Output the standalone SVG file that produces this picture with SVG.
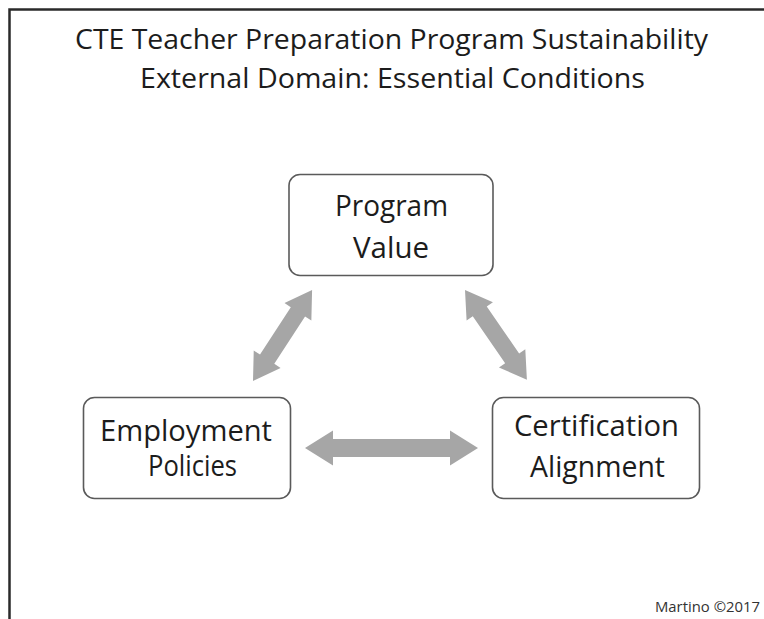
<svg xmlns="http://www.w3.org/2000/svg" width="764" height="619" viewBox="0 0 764 619">
  <style>
    .title { font-family: "Open Sans", "Liberation Sans", sans-serif; font-size: 27.5px; fill: #1c1c1c; text-anchor: middle; }
    .label { font-family: "Open Sans", "Liberation Sans", sans-serif; font-size: 29.5px; fill: #1c1c1c; text-anchor: middle; }
    .credit { font-family: "Open Sans", "Liberation Sans", sans-serif; font-size: 14.5px; fill: #333; text-anchor: end; }
    .box { fill: #ffffff; stroke: #5a5a5a; stroke-width: 1.6; }
    .arrow { fill: #a6a6a6; }
  </style>
  <rect x="0" y="0" width="764" height="619" fill="#ffffff"/>
  <!-- slide frame -->
  <path d="M9.5,619 V9.5 H764" fill="none" stroke="#2a2a2a" stroke-width="2.5"/>

  <g id="title">
    <text class="title" x="391.5" y="48.5" textLength="633" lengthAdjust="spacingAndGlyphs">CTE Teacher Preparation Program Sustainability</text>
    <text class="title" x="392.5" y="88" textLength="505" lengthAdjust="spacingAndGlyphs">External Domain: Essential Conditions</text>
  </g>

  <g id="connectors">
    <!-- Employment Policies <-> Certification Alignment -->
    <path class="arrow" transform="translate(305,448)" d="M0,0 L28,-17.5 L28,-9 L145,-9 L145,-17.5 L173,0 L145,17.5 L145,9 L28,9 L28,17.5 Z"/>
    <!-- Employment Policies <-> Program Value -->
    <path class="arrow" transform="translate(253,381) rotate(-57)" d="M0,0 L26,-16 L26,-8.5 L82.5,-8.5 L82.5,-16 L108.5,0 L82.5,16 L82.5,8.5 L26,8.5 L26,16 Z"/>
    <!-- Program Value <-> Certification Alignment -->
    <path class="arrow" transform="translate(465,290) rotate(55.4)" d="M0,0 L26,-16 L26,-8.5 L83,-8.5 L83,-16 L109,0 L83,16 L83,8.5 L26,8.5 L26,16 Z"/>
  </g>

  <g id="program-value">
    <rect class="box" x="289" y="174.5" width="204" height="101" rx="11"/>
    <text class="label" x="391.5" y="216" textLength="113" lengthAdjust="spacingAndGlyphs">Program</text>
    <text class="label" x="391" y="258" textLength="76" lengthAdjust="spacingAndGlyphs">Value</text>
  </g>

  <g id="employment-policies">
    <rect class="box" x="83.5" y="397.5" width="207" height="101" rx="11"/>
    <text class="label" x="186" y="441" textLength="172" lengthAdjust="spacingAndGlyphs">Employment</text>
    <text class="label" x="192.5" y="476" textLength="89" lengthAdjust="spacingAndGlyphs">Policies</text>
  </g>

  <g id="certification-alignment">
    <rect class="box" x="492.5" y="397.5" width="207" height="101" rx="11"/>
    <text class="label" x="596.5" y="436" textLength="165" lengthAdjust="spacingAndGlyphs">Certification</text>
    <text class="label" x="597.5" y="477" textLength="135" lengthAdjust="spacingAndGlyphs">Alignment</text>
  </g>

  <g id="credit">
    <text class="credit" x="760" y="612" textLength="105" lengthAdjust="spacingAndGlyphs">Martino ©2017</text>
  </g>
</svg>
